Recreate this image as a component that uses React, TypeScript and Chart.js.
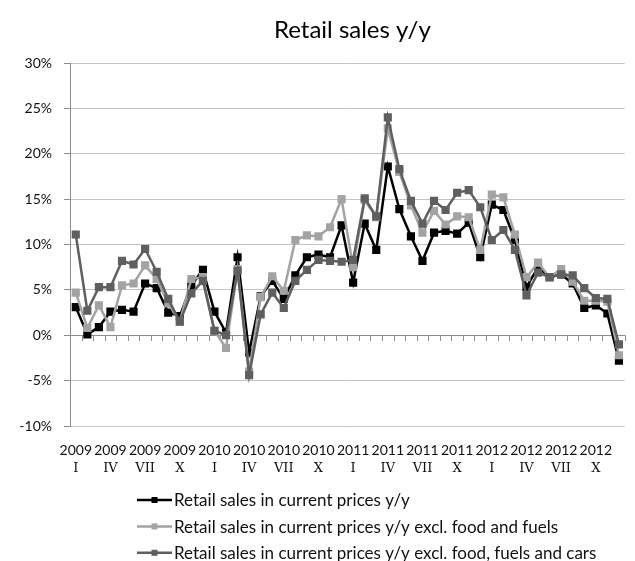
import React, { useEffect, useRef } from 'react';
import { Chart, registerables } from 'chart.js';

Chart.register(...registerables);

// Monthly categories, 2009 I – 2012 XII
const years = ['2009', '2010', '2011', '2012'];
const monthNumerals = ['I', 'II', 'III', 'IV', 'V', 'VI', 'VII', 'VIII', 'IX', 'X', 'XI', 'XII'];
const categories = years.flatMap((y) => monthNumerals.map((m) => `${y} ${m}`));

// Year-on-year change, %
const retailSales = [
  3.1, 0.1, 0.9, 2.6, 2.8, 2.6, 5.7, 5.2, 2.5, 2.1, 5.5, 7.2,
  2.6, 0.3, 8.6, -1.9, 4.3, 6.0, 4.0, 6.6, 8.6, 8.9, 8.6, 12.1,
  5.8, 12.3, 9.4, 18.6, 13.9, 10.9, 8.2, 11.3, 11.5, 11.2, 12.4, 8.6,
  14.4, 13.8, 10.5, 5.3, 7.5, 6.4, 6.7, 5.7, 3.0, 3.3, 2.4, -2.8,
];
const exclFoodFuels = [
  4.7, 0.8, 3.3, 0.9, 5.5, 5.7, 7.7, 6.2, 3.5, 1.5, 6.2, 6.4,
  0.5, -1.4, 7.3, -4.0, 4.2, 6.5, 4.9, 10.5, 11.0, 10.9, 11.9, 15.0,
  7.5, 14.9, 13.0, 22.8, 18.0, 14.3, 11.3, 13.7, 12.2, 13.1, 13.0, 9.4,
  15.5, 15.2, 11.1, 6.4, 8.0, 6.4, 7.3, 5.9, 3.8, 3.8, 3.7, -2.2,
];
const exclFoodFuelsCars = [
  11.1, 2.7, 5.3, 5.3, 8.2, 7.8, 9.5, 7.0, 4.0, 1.5, 4.6, 6.0,
  0.5, 0.0, 7.1, -4.4, 2.3, 4.7, 3.0, 6.0, 7.2, 8.3, 8.2, 8.1,
  8.3, 15.1, 13.1, 24.0, 18.3, 14.8, 12.3, 14.8, 13.8, 15.7, 16.0, 14.1,
  10.5, 11.6, 9.4, 4.4, 6.9, 6.4, 6.7, 6.6, 5.2, 4.1, 4.0, -1.0,
];

const seriesNames = [
  'Retail sales in current prices y/y',
  'Retail sales in current prices y/y excl. food and fuels',
  'Retail sales in current prices y/y excl. food, fuels and cars',
];
const seriesColors = ['#000000', '#a3a3a3', '#5f5f5f'];
const chartTitle = 'Retail sales y/y';

const FONT = 'Lato, "Open Sans", sans-serif';

// Short downward ticks on the zero line, one per category boundary
const zeroTicks = {
  id: 'zeroTicks',
  beforeDatasetsDraw(chart: any) {
    const { ctx, chartArea, scales } = chart;
    const x = scales.x;
    const y0 = scales.y.getPixelForValue(0);
    const step = (chartArea.right - chartArea.left) / categories.length;
    ctx.save();
    ctx.strokeStyle = '#8c8c8c';
    ctx.lineWidth = 1;
    ctx.beginPath();
    ctx.moveTo(chartArea.left, Math.round(y0) + 0.5);
    ctx.lineTo(chartArea.right, Math.round(y0) + 0.5);
    for (let i = 0; i <= categories.length; i++) {
      const px = Math.round(x.left + i * step) + 0.5;
      ctx.moveTo(px, Math.round(y0));
      ctx.lineTo(px, Math.round(y0) + 6);
    }
    ctx.stroke();
    ctx.restore();
  },
};

// Title above the plot and a stacked legend below the axis labels
const titleAndLegend = {
  id: 'titleAndLegend',
  afterDraw(chart: any) {
    const { ctx, chartArea } = chart;
    ctx.save();
    ctx.fillStyle = '#000';
    ctx.font = `24px ${FONT}`;
    ctx.textAlign = 'center';
    ctx.textBaseline = 'middle';
    ctx.fillText(chartTitle, (chartArea.left + chartArea.right) / 2 + 5, 30);

    ctx.font = `17px ${FONT}`;
    ctx.textAlign = 'left';
    chart.data.datasets.forEach((ds: any, i: number) => {
      const cy = 500 + i * 26.4;
      ctx.strokeStyle = ds.borderColor;
      ctx.lineWidth = 2.5;
      ctx.beginPath();
      ctx.moveTo(137, cy);
      ctx.lineTo(172, cy);
      ctx.stroke();
      ctx.fillStyle = ds.borderColor;
      ctx.fillRect(151.5, cy - 3, 6, 6);
      ctx.fillStyle = '#111';
      ctx.fillText(ds.label, 174, cy + 1);
    });
    ctx.restore();
  },
};

export default function App() {
  const canvasRef = useRef<HTMLCanvasElement | null>(null);

  useEffect(() => {
    if (!canvasRef.current) return;
    const seriesData = [retailSales, exclFoodFuels, exclFoodFuelsCars];
    const chart = new Chart(canvasRef.current, {
      type: 'line',
      data: {
        labels: categories,
        datasets: seriesData.map((d, i) => ({
          label: seriesNames[i],
          data: d,
          borderColor: seriesColors[i],
          backgroundColor: seriesColors[i],
          borderWidth: 2.5,
          pointStyle: 'rect',
          pointRadius: 4,
          pointHoverRadius: 4,
          tension: 0,
          order: 3 - i,
          xAxisID: 'x',
        })),
      },
      options: {
        animation: false,
        responsive: false,
        devicePixelRatio: 1,
        layout: { padding: { top: 63, left: 0, right: 3, bottom: 83 } },
        plugins: {
          legend: { display: false },
          title: { display: false },
          tooltip: { enabled: false },
        },
        scales: {
          x: {
            type: 'category',
            position: 'bottom',
            offset: true,
            grid: { display: false, drawTicks: false },
            border: { display: false },
            ticks: {
              autoSkip: false,
              maxRotation: 0,
              padding: 16,
              color: '#111',
              font: { family: FONT, size: 14 },
              callback: (_v: any, i: number) => (i % 3 === 0 ? categories[i].split(' ')[0] : ''),
            },
            afterFit: (s: any) => {
              s.height = 34;
            },
          },
          x2: {
            type: 'category',
            position: 'bottom',
            labels: categories,
            offset: true,
            grid: { display: false, drawTicks: false },
            border: { display: false },
            ticks: {
              autoSkip: false,
              maxRotation: 0,
              padding: 1,
              color: '#111',
              font: { family: '"DejaVu Serif", serif', size: 13 },
              callback: (_v: any, i: number) => (i % 3 === 0 ? categories[i].split(' ')[1] : ''),
            },
            afterFit: (s: any) => {
              s.height = 18;
            },
          },
          y: {
            min: -10,
            max: 30,
            border: { display: true, color: '#8c8c8c' },
            grid: {
              color: '#c4c4c4',
              tickColor: '#8c8c8c',
              tickLength: 6,
            },
            ticks: {
              stepSize: 5,
              padding: 12,
              color: '#111',
              font: { family: FONT, size: 14 },
              callback: (v: any) => `${v}%`,
            },
            afterFit: (s: any) => {
              s.width = 70;
            },
          },
        },
      },
      plugins: [zeroTicks, titleAndLegend],
    });
    return () => chart.destroy();
  }, []);

  return (
    <div style={{ position: 'fixed', left: 0, top: 0, width: 635, height: 561, background: '#fff' }}>
      <canvas ref={canvasRef} width={635} height={561} />
    </div>
  );
}
